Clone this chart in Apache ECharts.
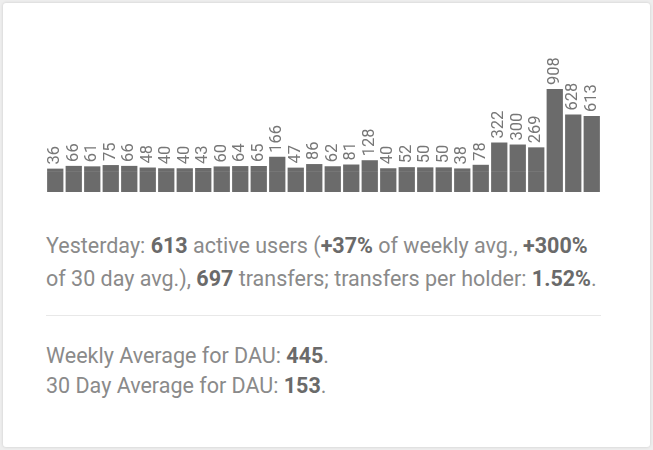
<!DOCTYPE html>
<html><head><meta charset="utf-8">
<script src="https://cdn.jsdelivr.net/npm/echarts@6/dist/echarts.min.js"></script>
<style>
body{margin:0;background:#eeeeee;font-family:Roboto,sans-serif;}
#card{position:absolute;left:3px;top:3px;width:647px;height:444px;background:#fff;border-radius:3px;box-shadow:0 0 3px rgba(0,0,0,0.15);}
#chart{position:absolute;left:0;top:0;width:653px;height:200px;}
.txt{position:absolute;left:46px;width:600px;color:#8a8a8a;font-size:21.5px;white-space:nowrap;}
.txt b{color:#6a6a6a;}
#sep{position:absolute;left:46px;top:315px;width:555px;height:1px;background:#e8e8e8;}
</style></head><body>
<div id="card"></div>
<div id="chart"></div>
<div class="txt" style="top:229px;line-height:33px">Yesterday: <b>613</b> active users (<b>+37%</b> of weekly avg., <b>+300%</b><br>of 30 day avg.), <b>697</b> transfers; transfers per holder: <b>1.52%</b>.</div>
<div id="sep"></div>
<div class="txt" style="top:341px;line-height:30px">Weekly Average for DAU: <b>445</b>.<br>30 Day Average for DAU: <b>153</b>.</div>
<script>
const days = Array.from({length:30},(_, i)=>'D'+(i+1));
const dau = [36,66,61,75,66,48,40,40,43,60,64,65,166,47,86,62,81,128,40,52,50,50,38,78,322,300,269,908,628,613];
const baseVal = 220;
const base = dau.map(()=>baseVal);
const c = echarts.init(document.getElementById('chart'));
c.setOption({
  animation:false,
  grid:{left:46,width:555,top:89,height:103},
  xAxis:{type:'category',data:days,show:false},
  yAxis:{type:'value',min:0,max:1128,show:false},
  series:[
    {type:'bar',stack:'s',data:base,itemStyle:{color:'#6b6b6b'},barCategoryGap:'12%'},
    {type:'bar',stack:'s',data:dau,itemStyle:{color:'#6b6b6b'},
     label:{show:true,position:'top',rotate:90,align:'left',verticalAlign:'middle',distance:4,color:'#777',fontSize:16.5,fontFamily:'Roboto'}}
  ]
});
</script></body></html>
